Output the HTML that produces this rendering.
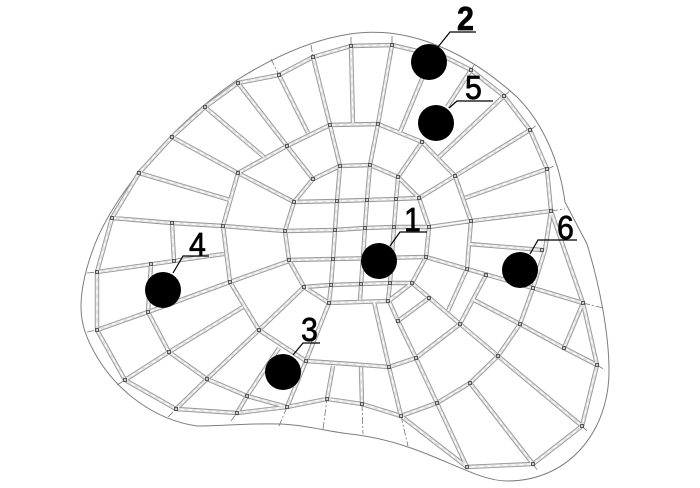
<!DOCTYPE html>
<html>
<head>
<meta charset="utf-8">
<style>
html,body{margin:0;padding:0;background:#fff;width:700px;height:488px;overflow:hidden}
svg{display:block}
text{font-family:"Liberation Sans",sans-serif;font-size:33px;fill:#000;stroke:#000;stroke-width:.7}
</style>
</head>
<body>
<svg width="700" height="488" viewBox="0 0 700 488" xmlns="http://www.w3.org/2000/svg">
<defs>
<path id="b" d="M112,218L139,173L172,137L205,107L238,83L279,75L313,57L351,46L392,45L447,58L471,70L504,96L530,130L547,169L551,211L583,303L597,365L582,426L533,464L467,467L401,416L362,404L327,399L287,407L237,413L176,409L125,380L97,330L97,272L112,218Z
M551,211L545,250L533,288L520,324L498,356L470,383L437,403L401,416
M223,226L238,173L287,146L330,125L378,124L422,142L455,176L471,221L469,244L467,269L448,311
M486,275L460,324L416,358L389,367L350,364L306,361L259,330L230,282L223,226
M172,223L174,261M151,264L148,312L169,352L207,379L247,396L287,407
M285,231L294,202L313,179L340,166L370,165L398,177L419,198L429,227L426,257L412,283L388,301L329,303L304,287L289,260Z
M294,202L337,201L367,200L396,199L419,198
M112,218L172,223L223,226L285,231L335,230L365,228L394,227L429,227L471,221L551,211
M97,272L174,261L224,254
M289,260L333,259L426,257L467,269L533,288L583,303
M304,287L331,285L361,284L390,283L412,283
M340,166L337,201L335,230L333,259L331,285L329,303
M392,45L378,124L370,165L367,200L365,228L360,300
M398,177L394,227L390,283L388,301
M351,46L353,124
M400,132L429,62M447,107L471,70M439,157L504,96M455,176L530,130M465,198L547,169
M422,142L398,177M455,176L419,198M471,221L429,227
M139,173L230,200M172,137L238,173L294,202M205,107L264,157M238,83L287,146L313,179M279,75L308,133M313,57L330,125L340,166
M97,330L148,312L230,282L289,261M125,380L169,352L243,307M176,409L207,379L259,330L304,287M237,413L247,396L279,348M287,407L306,361L329,303M327,399L333,366
M362,404L361,367M374,302L389,367L401,416
M412,283L389,301L398,321L416,358L437,403L467,467M429,298L398,321
M412,283L460,324L498,356L582,426M470,383L533,464
M474,300L520,324L564,348L597,365M564,348L583,303M469,244L542,250"/>
</defs>

<!-- outer boundary -->
<path d="M95,244C112,200 165,130 237,80C272,58 310,40 350,34C400,26 460,45 517,97C545,125 560,165 565,202L587,244C598,280 609,330 609,371C609,430 570,481 507,481C470,481 425,442 350,434C325,431 305,425 280,424C250,423 225,426 197,426C155,420 118,392 97,357C87,340 81,325 81,307C81,285 88,262 95,244Z" fill="none" stroke="#7d7d7d" stroke-width="1"/>

<!-- dashed axis stubs -->
<path d="M87,273L97,272M87,332L97,330M117,385L125,380M168,417L176,409M231,421L237,413M279,426L287,407M323,429L327,399M362,404L363,434M401,416L408,446M533,464L538,471M582,426L588,432M597,365L605,370M583,303L603,308M271,59L279,75M311,45L313,57M351,37L351,46M392,36L392,45M471,70L476,62M504,96L511,90M530,130L537,125M547,169L554,166M551,211L565,209" fill="none" stroke="#777" stroke-width="0.8" stroke-dasharray="7 2 2 2"/>

<!-- beams -->
<use href="#b" fill="none" stroke="#989898" stroke-width="4.4" stroke-linejoin="miter"/>
<use href="#b" fill="none" stroke="#e2e2e2" stroke-width="2.6"/>
<use href="#b" fill="none" stroke="#fff" stroke-width="1.1" stroke-dasharray="4 4"/>

<!-- nodes -->
<g fill="#ccc" stroke="#3a3a3a" stroke-width="0.8">
<rect x="110.500" y="216.500" width="3" height="3"/><rect x="137.500" y="171.500" width="3" height="3"/><rect x="170.500" y="135.500" width="3" height="3"/><rect x="203.500" y="105.500" width="3" height="3"/><rect x="236.500" y="81.500" width="3" height="3"/><rect x="277.500" y="73.500" width="3" height="3"/><rect x="311.500" y="55.500" width="3" height="3"/><rect x="349.500" y="44.500" width="3" height="3"/><rect x="390.500" y="43.500" width="3" height="3"/><rect x="469.500" y="68.500" width="3" height="3"/><rect x="502.500" y="94.500" width="3" height="3"/><rect x="528.500" y="128.500" width="3" height="3"/><rect x="545.500" y="167.500" width="3" height="3"/><rect x="549.500" y="209.500" width="3" height="3"/><rect x="581.500" y="301.500" width="3" height="3"/><rect x="595.500" y="363.500" width="3" height="3"/><rect x="580.500" y="424.500" width="3" height="3"/><rect x="531.500" y="462.500" width="3" height="3"/><rect x="465.500" y="465.500" width="3" height="3"/><rect x="399.500" y="414.500" width="3" height="3"/><rect x="360.500" y="402.500" width="3" height="3"/><rect x="325.500" y="397.500" width="3" height="3"/><rect x="285.500" y="405.500" width="3" height="3"/><rect x="235.500" y="411.500" width="3" height="3"/><rect x="174.500" y="407.500" width="3" height="3"/><rect x="123.500" y="378.500" width="3" height="3"/><rect x="95.500" y="328.500" width="3" height="3"/><rect x="95.500" y="270.500" width="3" height="3"/>
<rect x="221.500" y="224.500" width="3" height="3"/><rect x="236.500" y="171.500" width="3" height="3"/><rect x="285.500" y="144.500" width="3" height="3"/><rect x="328.500" y="123.500" width="3" height="3"/><rect x="376.500" y="122.500" width="3" height="3"/><rect x="420.500" y="140.500" width="3" height="3"/><rect x="453.500" y="174.500" width="3" height="3"/><rect x="469.500" y="219.500" width="3" height="3"/><rect x="465.500" y="267.500" width="3" height="3"/><rect x="484.500" y="273.500" width="3" height="3"/><rect x="458.500" y="322.500" width="3" height="3"/><rect x="414.500" y="356.500" width="3" height="3"/><rect x="387.500" y="365.500" width="3" height="3"/><rect x="304.500" y="359.500" width="3" height="3"/><rect x="257.500" y="328.500" width="3" height="3"/><rect x="228.500" y="280.500" width="3" height="3"/>
<rect x="283.500" y="229.500" width="3" height="3"/><rect x="292.500" y="200.500" width="3" height="3"/><rect x="311.500" y="177.500" width="3" height="3"/><rect x="338.500" y="164.500" width="3" height="3"/><rect x="368.500" y="163.500" width="3" height="3"/><rect x="396.500" y="175.500" width="3" height="3"/><rect x="417.500" y="196.500" width="3" height="3"/><rect x="427.500" y="225.500" width="3" height="3"/><rect x="424.500" y="255.500" width="3" height="3"/><rect x="410.500" y="281.500" width="3" height="3"/><rect x="386.500" y="299.500" width="3" height="3"/><rect x="327.500" y="301.500" width="3" height="3"/><rect x="302.500" y="285.500" width="3" height="3"/><rect x="287.500" y="258.500" width="3" height="3"/>
<rect x="335.500" y="199.500" width="3" height="3"/><rect x="365.500" y="198.500" width="3" height="3"/><rect x="394.500" y="197.500" width="3" height="3"/><rect x="333.500" y="228.500" width="3" height="3"/><rect x="363.500" y="226.500" width="3" height="3"/><rect x="392.500" y="225.500" width="3" height="3"/><rect x="331.500" y="257.500" width="3" height="3"/><rect x="329.500" y="283.500" width="3" height="3"/><rect x="359.500" y="282.500" width="3" height="3"/><rect x="388.500" y="281.500" width="3" height="3"/>
<rect x="170.500" y="221.500" width="3" height="3"/><rect x="172.500" y="259.500" width="3" height="3"/><rect x="149.500" y="262.500" width="3" height="3"/><rect x="146.500" y="310.500" width="3" height="3"/><rect x="167.500" y="350.500" width="3" height="3"/><rect x="205.500" y="377.500" width="3" height="3"/><rect x="245.500" y="394.500" width="3" height="3"/>
<rect x="531.500" y="286.500" width="3" height="3"/><rect x="518.500" y="322.500" width="3" height="3"/><rect x="496.500" y="354.500" width="3" height="3"/><rect x="468.500" y="381.500" width="3" height="3"/><rect x="435.500" y="401.500" width="3" height="3"/><rect x="540.500" y="248.500" width="3" height="3"/><rect x="562.500" y="346.500" width="3" height="3"/><rect x="396.500" y="319.500" width="3" height="3"/><rect x="427.500" y="296.500" width="3" height="3"/>
</g>

<!-- dots -->
<g fill="#000">
<circle cx="429" cy="62" r="18"/><circle cx="436" cy="123" r="18"/><circle cx="379" cy="261" r="18"/><circle cx="520" cy="270" r="18"/><circle cx="163" cy="290" r="18"/><circle cx="283" cy="372" r="18"/>
</g>

<!-- leaders -->
<g fill="none" stroke="#000" stroke-width="1.2">
<path d="M438,47L450,32L476,32"/>
<path d="M449,108L457,101L493,101"/>
<path d="M390,246L400,232L427,232"/>
<path d="M530,254L538,240L577,240"/>
<path d="M173,273L183,256L209,256"/>
<path d="M293,355L303,343L320,343"/>
</g>

<!-- labels -->
<g>
<text transform="translate(457,30) scale(0.92,1)" font-weight="bold">2</text>
<text transform="translate(465,99) scale(0.92,1)">5</text>
<text transform="translate(404,231) scale(0.92,1)">1</text>
<text transform="translate(557,239) scale(0.92,1)">6</text>
<text transform="translate(189,256) scale(0.92,1)">4</text>
<text transform="translate(301,341) scale(0.92,1)">3</text>
</g>
</svg>
</body>
</html>
